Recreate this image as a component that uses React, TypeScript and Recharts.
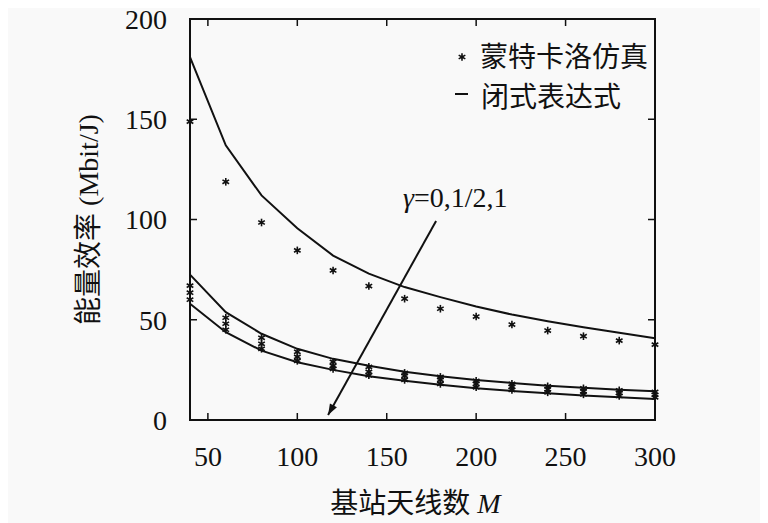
import React from 'react';
import {
  ComposedChart,
  Line,
  XAxis,
  YAxis,
  ReferenceArea,
  ReferenceLine,
  ReferenceDot,
  Legend,
} from 'recharts';

// ---- data ----
const antennas = [40, 60, 80, 100, 120, 140, 160, 180, 200, 220, 240, 260, 280, 300];
const closedGamma0 = [181, 137, 112, 95.6, 82, 73, 66.3, 61.3, 56.6, 52.6, 49.3, 46.3, 43.5, 40.8];
const closedGammaHalf = [72.5, 53.8, 43, 35.5, 30.5, 27.1, 24.1, 21.8, 20, 18.5, 17.1, 16.1, 15.1, 14.3];
const closedGamma1 = [58, 43.8, 34.6, 28.8, 25, 21.8, 19.6, 17.6, 15.8, 14.5, 13.3, 12.2, 11.3, 10.5];
const simGamma0 = [148.8, 118.8, 98.5, 84.6, 74.6, 66.8, 60.5, 55.5, 51.6, 47.6, 44.6, 41.8, 39.6, 37.6];
const simUpper = [67, 51, 41, 34, 29, 26.5, 23.5, 21.5, 19.5, 18, 16.8, 15.8, 14.8, 14];
const simMiddle = [63.5, 48, 38, 31.5, 27, 24, 22, 20, 18, 16.5, 15.3, 14.3, 13.5, 12.6];
const simLower = [60, 45, 35.5, 29.5, 25.5, 22.3, 20, 18, 16.3, 15, 13.8, 12.8, 12, 11.3];

const xTicks = [50, 100, 150, 200, 250, 300];
const yTicks = [0, 50, 100, 150, 200];
const yInnerTicks = [50, 100, 150];

const legendLabels = ['蒙特卡洛仿真', '闭式表达式'];
const gammaLabel = '0,1/2,1';
const xLabel = '基站天线数';
const yLabel = '能量效率 (Mbit/J)';

const arrowStart = { x: 177.6, y: 99.3 };
const arrowEnd = { x: 117.2, y: 2.5 };
const gammaAnchor = { x: 159.1, y: 111.2 };

const tableData = antennas.map((m, i) => ({
  M: m,
  cf0: closedGamma0[i],
  cf1: closedGammaHalf[i],
  cf2: closedGamma1[i],
  s0: simGamma0[i],
  sA: simUpper[i],
  sB: simMiddle[i],
  sC: simLower[i],
}));

const SERIF = "'Liberation Serif', 'DejaVu Serif', serif";
const MIXED = "'Liberation Serif', 'Noto Sans CJK SC', serif";

const Star = (props: any) => {
  const { cx, cy } = props;
  if (cx == null || cy == null) return <g />;
  const r = 3.8;
  const d = r * 0.87;
  return (
    <g stroke="#111" strokeWidth={1.6}>
      <line x1={cx} y1={cy - r} x2={cx} y2={cy + r} />
      <line x1={cx - d} y1={cy - r / 2} x2={cx + d} y2={cy + r / 2} />
      <line x1={cx - d} y1={cy + r / 2} x2={cx + d} y2={cy - r / 2} />
      <circle cx={cx} cy={cy} r={1.6} fill="#111" stroke="none" />
    </g>
  );
};

const ArrowShape = (props: any) => {
  const { x1, y1, x2, y2 } = props;
  if ([x1, y1, x2, y2].some((v) => v == null)) return <g />;
  const ang = Math.atan2(y2 - y1, x2 - x1);
  const len = 11;
  const w = 4;
  const bx = x2 - len * Math.cos(ang);
  const by = y2 - len * Math.sin(ang);
  const px = -Math.sin(ang) * w;
  const py = Math.cos(ang) * w;
  return (
    <g>
      <line x1={x1} y1={y1} x2={x2} y2={y2} stroke="#111" strokeWidth={2} />
      <polygon points={`${x2},${y2} ${bx + px},${by + py} ${bx - px},${by - py}`} fill="#111" />
    </g>
  );
};

const TickSeg = (props: any) => {
  const { x1, y1, x2, y2 } = props;
  if ([x1, y1, x2, y2].some((v) => v == null)) return <g />;
  return <line x1={x1} y1={y1} x2={x2} y2={y2} stroke="#111" strokeWidth={1.5} />;
};

const GammaLabel = (props: any) => {
  const { cx, cy } = props;
  if (cx == null || cy == null) return <g />;
  return (
    <text x={cx} y={cy} dominantBaseline="central" style={{ fontFamily: SERIF }} fontSize={28} fill="#111">
      <tspan fontStyle="italic">γ</tspan>
      <tspan>={gammaLabel}</tspan>
    </text>
  );
};

const XTick = (props: any) => {
  const { x, y, payload } = props;
  return (
    <text x={x} y={y} dy="0.71em" textAnchor="middle" style={{ fontFamily: SERIF }} fontSize={28} fill="#111">
      {payload.value}
    </text>
  );
};

const YTick = (props: any) => {
  const { x, y, payload } = props;
  return (
    <text x={x} y={y} dy="0.355em" textAnchor="end" style={{ fontFamily: SERIF }} fontSize={28} fill="#111">
      {payload.value}
    </text>
  );
};

const LegendContent = () => (
  <svg width={240} height={100} style={{ display: 'block', overflow: 'visible' }}>
    <Star cx={22} cy={37} />
    <text x={40} y={37} dominantBaseline="central" style={{ fontFamily: MIXED }} fontSize={28} fill="#111">
      {legendLabels[0]}
    </text>
    <line x1={15} y1={74} x2={28} y2={74} stroke="#111" strokeWidth={2} />
    <text x={41} y={77} dominantBaseline="central" style={{ fontFamily: MIXED }} fontSize={28} fill="#111">
      {legendLabels[1]}
    </text>
  </svg>
);

const YLabelContent = (props: any) => {
  const vb = props.viewBox || {};
  const x = (vb.x ?? 0) - 42;
  const y = (vb.y ?? 0) + (vb.height ?? 0) / 2;
  return (
    <text
      x={x}
      y={y}
      transform={`rotate(-90, ${x}, ${y})`}
      textAnchor="middle"
      dominantBaseline="central"
      style={{ fontFamily: MIXED }}
      fontSize={28}
      fill="#111"
    >
      {yLabel}
    </text>
  );
};

const XLabelContent = (props: any) => {
  const vb = props.viewBox || {};
  const x = (vb.x ?? 0) + (vb.width ?? 0) / 2 - 7;
  const y = (vb.y ?? 0) + 83;
  return (
    <text x={x} y={y} textAnchor="middle" dominantBaseline="central" style={{ fontFamily: MIXED }} fontSize={28} fill="#111">
      <tspan>{xLabel} </tspan>
      <tspan fontStyle="italic" style={{ fontFamily: SERIF }}>M</tspan>
    </text>
  );
};

export default function App() {
  const lineCommon = {
    type: 'linear' as const,
    stroke: '#111',
    strokeWidth: 2,
    dot: false,
    activeDot: false,
    isAnimationActive: false,
  };
  const simCommon = {
    type: 'linear' as const,
    stroke: 'none',
    dot: <Star />,
    activeDot: false,
    isAnimationActive: false,
  };
  return (
    <div style={{ marginLeft: -8, marginTop: -8, width: 768, height: 523, background: '#f9f9f9' }}>
      <ComposedChart
        width={768}
        height={523}
        data={tableData}
        margin={{ top: 19, right: 113, bottom: 0, left: 130 }}
      >
        <XAxis
          dataKey="M"
          type="number"
          domain={[40, 300]}
          ticks={xTicks}
          tickLine={false}
          axisLine={false}
          tickSize={0}
          tickMargin={26}
          tick={<XTick />}
          height={103}
          label={<XLabelContent />}
        />
        <YAxis
          type="number"
          domain={[0, 200]}
          ticks={yTicks}
          tickLine={false}
          axisLine={false}
          tickSize={0}
          tickMargin={23}
          tick={<YTick />}
          width={60}
          label={<YLabelContent />}
        />
        <Legend
          layout="vertical"
          align="center"
          verticalAlign="middle"
          content={<LegendContent />}
          wrapperStyle={{ left: 440, top: 20, width: 240, height: 100 }}
        />
        <ReferenceArea x1={40} x2={300} y1={0} y2={200} fill="none" stroke="#111" strokeWidth={2} ifOverflow="visible" />
        {xTicks.filter((v) => v < 300).map((v) => (
          <ReferenceLine key={`bt${v}`} segment={[{ x: v, y: 0 }, { x: v, y: 3.5 }]} shape={<TickSeg />} ifOverflow="visible" />
        ))}
        {xTicks.filter((v) => v < 300).map((v) => (
          <ReferenceLine key={`tt${v}`} segment={[{ x: v, y: 200 }, { x: v, y: 196.5 }]} shape={<TickSeg />} ifOverflow="visible" />
        ))}
        {yInnerTicks.map((v) => (
          <ReferenceLine key={`lt${v}`} segment={[{ x: 40, y: v }, { x: 43.9, y: v }]} shape={<TickSeg />} ifOverflow="visible" />
        ))}
        {yInnerTicks.map((v) => (
          <ReferenceLine key={`rt${v}`} segment={[{ x: 300, y: v }, { x: 296.1, y: v }]} shape={<TickSeg />} ifOverflow="visible" />
        ))}
        <Line dataKey="cf0" {...lineCommon} />
        <Line dataKey="cf1" {...lineCommon} />
        <Line dataKey="cf2" {...lineCommon} />
        <Line dataKey="s0" {...simCommon} />
        <Line dataKey="sA" {...simCommon} />
        <Line dataKey="sB" {...simCommon} />
        <Line dataKey="sC" {...simCommon} />
        <ReferenceLine segment={[arrowStart, arrowEnd]} shape={<ArrowShape />} ifOverflow="visible" />
        <ReferenceDot x={gammaAnchor.x} y={gammaAnchor.y} r={0} shape={<GammaLabel />} ifOverflow="visible" />
      </ComposedChart>
    </div>
  );
}
